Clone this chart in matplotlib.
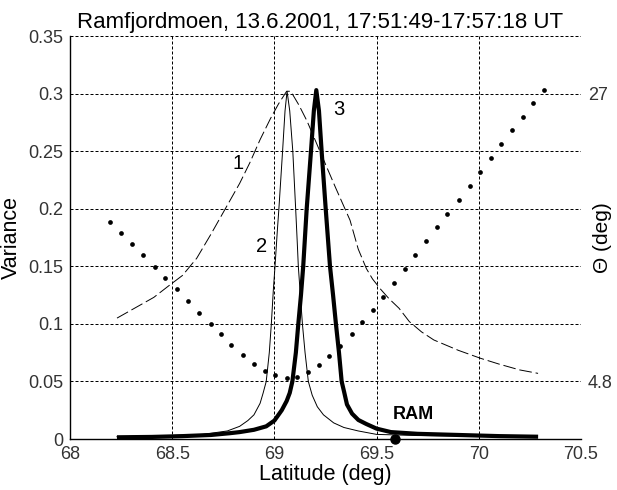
import numpy as np
import matplotlib
matplotlib.use('Agg')
import matplotlib.pyplot as plt

plt.rcParams['font.family'] = ['Liberation Sans', 'DejaVu Sans']

# Curve 1 (thin dashed) - latitude / variance
lat1 = [68.23, 68.33, 68.41, 68.49, 68.55, 68.62, 68.69, 68.76, 68.83, 68.88,
        68.93, 68.98, 69.02, 69.06, 69.08, 69.12, 69.16, 69.22, 69.30, 69.37,
        69.41, 69.45, 69.48, 69.52, 69.56, 69.61, 69.66, 69.72, 69.78, 69.90,
        70.01, 70.10, 70.20, 70.29]
var1 = [0.105, 0.115, 0.123, 0.134, 0.142, 0.157, 0.178, 0.200, 0.222, 0.240,
        0.260, 0.278, 0.291, 0.302, 0.302, 0.290, 0.276, 0.251, 0.218, 0.190,
        0.165, 0.148, 0.139, 0.130, 0.122, 0.1135, 0.102, 0.093, 0.086, 0.077,
        0.070, 0.065, 0.060, 0.057]

# Curve 2 (thin solid)
lat2 = [68.23, 68.50, 68.65, 68.77, 68.83, 68.87, 68.90, 68.93, 68.945, 68.96,
        68.975, 68.985, 68.995, 69.003, 69.014, 69.022, 69.04, 69.052, 69.062,
        69.075, 69.09, 69.104, 69.112, 69.117, 69.127, 69.137, 69.15, 69.166,
        69.185, 69.21, 69.24, 69.29, 69.34, 69.41, 69.50, 69.70, 70.00, 70.28]
var2 = [0.002, 0.003, 0.004, 0.007, 0.011, 0.016, 0.021, 0.031, 0.040, 0.050,
        0.075, 0.100, 0.130, 0.150, 0.180, 0.200, 0.250, 0.285, 0.302,
        0.285, 0.250, 0.200, 0.170, 0.150, 0.125, 0.100, 0.075, 0.050,
        0.038, 0.028, 0.021, 0.014, 0.010, 0.007, 0.004, 0.003, 0.0025, 0.002]

# Curve 3 (thick solid)
lat3 = [68.24, 68.40, 68.55, 68.69, 68.78, 68.83, 68.90, 68.96, 69.00, 69.036,
        69.06, 69.075, 69.088, 69.105, 69.117, 69.13, 69.141, 69.158, 69.179,
        69.193, 69.205, 69.218, 69.231, 69.251, 69.272, 69.287, 69.301, 69.316,
        69.329, 69.341, 69.355, 69.38, 69.411, 69.45, 69.50, 69.57, 69.70,
        69.90, 70.10, 70.28]
var3 = [0.0015, 0.0018, 0.0025, 0.0035, 0.005, 0.006, 0.008, 0.011, 0.016, 0.025,
        0.033, 0.040, 0.050, 0.075, 0.100, 0.125, 0.150, 0.200, 0.250,
        0.285, 0.303, 0.285, 0.250, 0.200, 0.150, 0.125, 0.100, 0.075,
        0.050, 0.041, 0.030, 0.022, 0.0165, 0.013, 0.009, 0.006, 0.0045,
        0.0035, 0.0025, 0.002]

# Theta (deg) dotted curve, right axis
lat_th = [68.196, 68.248, 68.305, 68.357, 68.416, 68.466, 68.525, 68.577, 68.630,
          68.688, 68.739, 68.789, 68.846, 68.899, 68.953, 69.003, 69.060, 69.111,
          69.164, 69.217, 69.269, 69.321, 69.378, 69.430, 69.481, 69.533, 69.585,
          69.637, 69.689, 69.742, 69.794, 69.846, 69.903, 69.956, 70.006, 70.060,
          70.110, 70.164, 70.215, 70.267, 70.317]
theta = [17.12, 16.25, 15.42, 14.53, 13.60, 12.78, 11.90, 10.98, 10.05,
         9.23, 8.43, 7.61, 6.81, 6.17, 5.63, 5.27, 5.09, 5.16,
         5.53, 6.07, 6.78, 7.53, 8.43, 9.36, 10.31, 11.33, 12.41,
         13.45, 14.53, 15.61, 16.69, 17.71, 18.79, 19.87, 20.97, 22.05,
         23.13, 24.17, 25.22, 26.25, 27.30]

ram_lat = 69.59
xticks = [68, 68.5, 69, 69.5, 70, 70.5]
xticklabels = ['68', '68.5', '69', '69.5', '70', '70.5']
yticks = [0, 0.05, 0.1, 0.15, 0.2, 0.25, 0.3, 0.35]
yticklabels = ['0', '0.05', '0.1', '0.15', '0.2', '0.25', '0.3', '0.35']
theta_ticks = [4.8, 27]
theta_tick_var = [0.05, 0.3]   # variance level where each theta tick sits

fig = plt.figure(figsize=(6.17, 4.9), dpi=100)
ax = fig.add_axes([70 / 617, 1 - 439 / 490, 511 / 617, 403 / 490])

ax.plot(lat1, var1, color='black', lw=0.7, linestyle=(0, (13, 4)))
ax.plot(lat2, var2, color='black', lw=0.7)
ax.plot(lat3, var3, color='black', lw=3.0, solid_joinstyle='round')
ax.plot([ram_lat], [0], 'o', color='black', ms=6.5, clip_on=False, zorder=5)

ax.text(68.82, 0.239, '1', fontsize=14.5, ha='center', va='center')
ax.text(68.935, 0.167, '2', fontsize=14.5, ha='center', va='center')
ax.text(69.315, 0.286, '3', fontsize=14.5, ha='center', va='center')
ax.text(69.68, 0.0215, 'RAM', fontsize=13, fontweight='bold', ha='center', va='center')

ax.set_xlim(68, 70.5)
ax.set_ylim(0, 0.35)
ax.set_xticks(xticks)
ax.set_xticklabels(xticklabels)
ax.set_yticks(yticks)
ax.set_yticklabels(yticklabels)
ax.tick_params(length=0, labelsize=13, labelcolor='#333333', pad=5)
ax.grid(True, color='black', lw=0.72, linestyle=(0, (3, 2)))
for s in ['top', 'right']:
    ax.spines[s].set_visible(False)
for s in ['left', 'bottom']:
    ax.spines[s].set_linewidth(1.0)

ax.set_xlabel('Latitude (deg)', fontsize=15.5, labelpad=1)
ax.set_ylabel('Variance', fontsize=15.5, labelpad=4)
ax.set_title('Ramfjordmoen, 13.6.2001, 17:51:49-17:57:18 UT', fontsize=16, pad=5.5, x=0.49)

# right axis: theta scaled so 4.8 sits at 0.05 and 27 at 0.3
ax2 = ax.twinx()
slope = (theta_ticks[1] - theta_ticks[0]) / (theta_tick_var[1] - theta_tick_var[0])
ax2.set_ylim(theta_ticks[0] - slope * theta_tick_var[0],
             theta_ticks[0] + slope * (0.35 - theta_tick_var[0]))
ax2.plot(lat_th, theta, 'o', color='black', ms=3.4, mec='none')
ax2.set_yticks(theta_ticks)
ax2.set_yticklabels(['4.8', '27'])
ax2.tick_params(length=0, labelsize=13, labelcolor='#333333', pad=5)
for s in ax2.spines.values():
    s.set_visible(False)
ax2.set_ylabel('\u0398 (deg)', fontsize=15)
ax2.yaxis.set_label_coords(1.024, 0.5)

fig.savefig('out.png', dpi=100)
